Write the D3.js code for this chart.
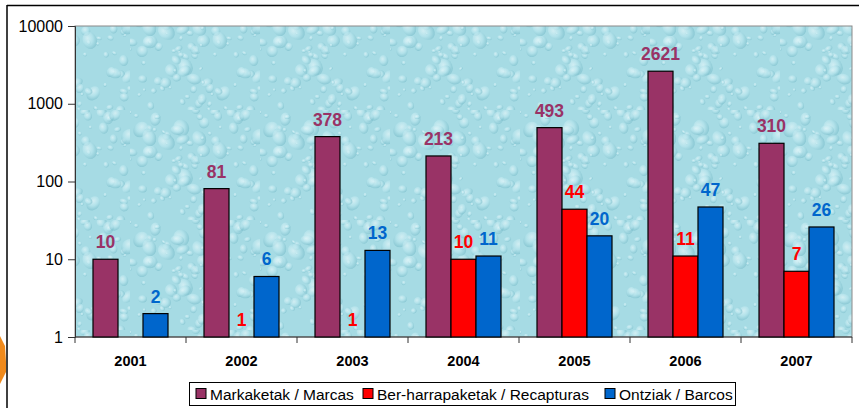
<!DOCTYPE html>
<html><head><meta charset="utf-8">
<script src="https://cdn.jsdelivr.net/npm/d3@7"></script>
<style>body{margin:0;background:#fff}svg{display:block}text{font-family:"Liberation Sans",Arial,sans-serif}</style>
</head><body>
<svg id="c" width="859" height="408"></svg>
<script>
const years = ["2001","2002","2003","2004","2005","2006","2007"];
const markaketak = [10, 81, 378, 213, 493, 2621, 310];
const berharrapaketak = [null, 1, 1, 10, 44, 11, 7];
const ontziak = [2, 6, 13, 11, 20, 47, 26];
const seriesNames = ["Markaketak / Marcas", "Ber-harrapaketak / Recapturas", "Ontziak / Barcos"];
const seriesColors = ["#993366", "#FF0000", "#0066CC"];
const yTicks = [1, 10, 100, 1000, 10000];

const svg = d3.select("#c");
const L = 75, R = 852, T = 26, B = 337;

// frame lines
svg.append("line").attr("x1",7).attr("x2",859).attr("y1",5.5).attr("y2",5.5).attr("stroke","#000").attr("stroke-width",1.5);
svg.append("line").attr("x1",7).attr("x2",7).attr("y1",5).attr("y2",408).attr("stroke","#000").attr("stroke-width",1.5);
// orange logo fragment
svg.append("path").attr("d","M0,336 L5,346 L6,362 L6,372 L0,384 Z").attr("fill","#F08A1C");

// background pattern (decorative water droplets)
const defs = svg.append("defs");
const rg = defs.append("radialGradient").attr("id","drop").attr("cx","40%").attr("cy","35%").attr("r","65%");
rg.append("stop").attr("offset","0%").attr("stop-color","#eefafc");
rg.append("stop").attr("offset","55%").attr("stop-color","#b9e6ee");
rg.append("stop").attr("offset","100%").attr("stop-color","#7dbfcc");
const pat = defs.append("pattern").attr("id","water").attr("patternUnits","userSpaceOnUse").attr("width",130).attr("height",110);
pat.append("rect").attr("width",130).attr("height",110).attr("fill","#a6dbe4");
let seed = 11;
function rnd(){ seed = (seed*16807) % 2147483647; return seed/2147483647; }
for (let i=0;i<110;i++){
  const cx = rnd()*130, cy = rnd()*110, r = 1.5 + rnd()*rnd()*9;
  pat.append("ellipse").attr("cx",cx).attr("cy",cy).attr("rx",r).attr("ry",r*(0.6+rnd()*0.7))
    .attr("transform",`rotate(${-50+rnd()*100},${cx},${cy})`)
    .attr("fill","url(#drop)").attr("opacity",0.6);
}

const x0 = d3.scaleBand().domain(years).range([L,R]).paddingInner(0).paddingOuter(0);
const x1 = d3.scaleBand().domain([0,1,2]).range([0,x0.bandwidth()]).paddingInner(0).paddingOuter(0.72);
const y = d3.scaleLog().domain([1,10000]).range([B,T]);

svg.append("rect").attr("x",L).attr("y",T).attr("width",R-L).attr("height",B-T)
  .attr("fill","url(#water)").attr("stroke","#8a8a8a").attr("stroke-width",1);

// axes
const yAxis = svg.append("g").attr("transform",`translate(${L},0)`)
  .call(d3.axisLeft(y).tickValues(yTicks).tickFormat(d3.format("d")).tickSize(7).tickPadding(5));
yAxis.attr("font-size",null).attr("font-family",null);
yAxis.select(".domain").attr("stroke","#333");
yAxis.selectAll("line").attr("stroke","#333");
yAxis.selectAll("text").attr("fill","#000").style("font-size","16px");

const xg = svg.append("g").attr("transform",`translate(0,${B})`);
xg.append("line").attr("x1",L).attr("x2",R).attr("y1",0).attr("y2",0).attr("stroke","#333").attr("stroke-width",1.2);
const bounds = years.map(d=>x0(d)).concat([R]);
xg.selectAll("line.t").data(bounds).join("line").attr("class","t")
  .attr("x1",d=>d).attr("x2",d=>d).attr("y1",0).attr("y2",6).attr("stroke","#333");
xg.selectAll("text").data(years).join("text")
  .attr("x",d=>x0(d)+x0.bandwidth()/2).attr("y",29).attr("text-anchor","middle")
  .style("font-size","14.5px").attr("font-weight","bold").attr("fill","#000").text(d=>d);

const allSeries = [markaketak, berharrapaketak, ontziak];
allSeries.forEach((vals, si) => {
  const g = svg.append("g");
  const data = vals.map((v,i)=>({v, yr: years[i]})).filter(d=>d.v!=null);
  g.selectAll("rect").data(data.filter(d=>d.v>1)).join("rect")
    .attr("x",d=>x0(d.yr)+x1(si)).attr("width",x1.bandwidth())
    .attr("y",d=>y(d.v)).attr("height",d=>B-y(d.v))
    .attr("fill",seriesColors[si]).attr("stroke","#000").attr("stroke-width",1.2);
  g.selectAll("text").data(data).join("text")
    .attr("x",d=>x0(d.yr)+x1(si)+x1.bandwidth()/2).attr("y",d=>y(d.v)-11)
    .attr("text-anchor","middle").style("font-size","17.5px").attr("font-weight","bold")
    .attr("fill",seriesColors[si]).text(d=>d.v);
});

// legend
const lg = svg.append("g");
lg.append("rect").attr("x",189.5).attr("y",382.5).attr("width",546).attr("height",23)
  .attr("fill","#fff").attr("stroke","#000").attr("stroke-width",1);
const legX = [196, 363, 605];
seriesNames.forEach((n,i)=>{
  lg.append("rect").attr("x",legX[i]).attr("y",388.5).attr("width",10).attr("height",10)
    .attr("fill",seriesColors[i]).attr("stroke","#000");
  lg.append("text").attr("x",legX[i]+14).attr("y",399.5).style("font-size","15.5px").attr("fill","#000").text(n);
});
</script>
</body></html>
